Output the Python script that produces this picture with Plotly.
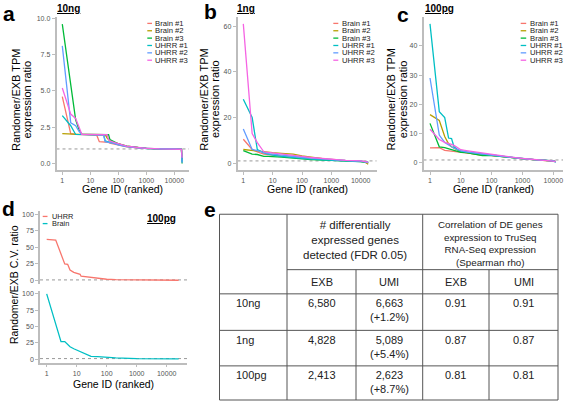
import plotly.graph_objects as go

W, H = 567, 403
FONT = "Liberation Sans, Arial, Helvetica, sans-serif"

# ---------------- data ----------------
series_names = ['Brain #1', 'Brain #2', 'Brain #3', 'UHRR #1', 'UHRR #2', 'UHRR #3']
series_colors = ['#F8766D', '#B79F00', '#00BA38', '#00BFC4', '#619CFF', '#F564E3']
rank_ticks = [1, 10, 100, 1000, 10000]
rank_tick_labels = ['1', '10', '100', '1000', '10000']

# panel a : 10ng
a_rank = [1, 2, 3, 4, 5, 7, 10, 17, 21, 30, 34, 40, 45, 50, 70, 100, 200, 500, 1000, 3000, 10000, 18000, 19000]
a_brain1 = [4.6, 2.05, 2.0, 2.0, 2.0, 2.0, 2.0, 1.95, 1.5, 1.5, 1.5, 1.48, 1.45, 1.4, 1.35, 1.25, 1.15, 1.08, 1.03, 1.0, 1.0, 0.98, 0.2]
a_brain2 = [2.05, 2.0, 2.0, 2.0, 2.0, 2.0, 2.0, 2.0, 2.0, 2.0, 1.98, 1.75, 1.6, 1.55, 1.45, 1.35, 1.2, 1.1, 1.04, 1.0, 1.0, 0.98, 0.3]
a_brain3 = [9.6, 5.3, 3.0, 2.3, 2.0, 2.0, 2.0, 2.0, 2.0, 2.0, 2.0, 2.0, 1.98, 1.65, 1.5, 1.35, 1.2, 1.1, 1.04, 1.0, 1.0, 0.98, 0.0]
a_uhrr1 = [3.3, 2.6, 2.0, 2.0, 2.0, 2.0, 2.0, 2.0, 2.0, 1.98, 1.55, 1.5, 1.48, 1.45, 1.4, 1.3, 1.18, 1.08, 1.03, 1.0, 1.0, 0.98, 0.1]
a_uhrr2 = [8.1, 2.8, 2.6, 2.2, 2.0, 2.0, 2.0, 2.0, 2.0, 1.95, 1.5, 1.48, 1.45, 1.42, 1.38, 1.28, 1.16, 1.07, 1.03, 1.0, 1.0, 0.98, 0.05]
a_uhrr3 = [5.2, 3.4, 3.1, 2.4, 2.0, 2.0, 2.0, 2.0, 2.0, 2.0, 2.0, 1.98, 1.65, 1.55, 1.45, 1.35, 1.2, 1.1, 1.04, 1.0, 1.0, 0.98, 0.4]

# panel b : 1ng
b_rank = [1, 2, 3, 4, 5, 7, 10, 20, 50, 100, 200, 500, 1000, 3000, 10000, 15000, 18000]
b_brain1 = [10.5, 6.0, 5.0, 4.5, 4.0, 3.8, 3.5, 3.2, 3.0, 2.7, 2.3, 1.8, 1.5, 1.2, 1.0, 0.6, 0.2]
b_brain2 = [6.0, 5.5, 5.3, 5.2, 5.0, 4.8, 4.6, 4.3, 4.0, 3.2, 2.8, 2.0, 1.3, 1.0, 0.7, 0.2, -0.5]
b_brain3 = [5.5, 4.0, 3.8, 3.5, 3.0, 3.0, 3.0, 2.7, 2.2, 1.8, 1.6, 1.3, 1.1, 1.0, 0.8, 0.5, 0.3]
b_uhrr1 = [28.0, 20.0, 6.0, 5.0, 4.5, 4.0, 3.5, 3.0, 2.5, 2.0, 1.8, 1.5, 1.3, 1.1, 0.9, 0.7, 0.5]
b_uhrr2 = [15.0, 6.0, 5.5, 5.0, 4.5, 4.2, 4.0, 3.5, 3.0, 2.5, 2.2, 1.8, 1.5, 1.2, 1.0, 0.7, 0.3]
b_uhrr3 = [61.0, 13.0, 9.0, 6.5, 5.0, 4.7, 4.5, 4.2, 3.5, 3.0, 2.5, 2.0, 1.5, 1.2, 1.0, 0.8, 0.5]

# panel c : 100pg
c_rank = [1, 2, 3, 4, 5, 6, 7, 8, 10, 15, 20, 30, 50, 100, 200, 500, 1000, 3000, 10000, 12000]
c_brain1 = [5.1, 5.2, 4.3, 4.1, 4.0, 3.9, 3.8, 3.7, 3.6, 3.4, 3.3, 3.1, 2.9, 2.7, 2.3, 1.8, 1.4, 1.0, 0.7, 0.4]
c_brain2 = [16.5, 14.5, 9.0, 6.5, 5.5, 5.0, 4.7, 4.3, 3.8, 3.5, 3.3, 3.0, 2.6, 2.6, 2.2, 1.8, 1.4, 1.0, 0.7, 0.4]
c_brain3 = [13.5, 5.5, 5.2, 4.8, 4.5, 4.3, 4.2, 4.0, 3.6, 3.5, 3.3, 3.0, 2.5, 2.5, 2.2, 1.8, 1.4, 1.0, 0.7, 0.4]
c_uhrr1 = [47.5, 17.5, 15.5, 8.5, 8.3, 5.5, 5.0, 4.5, 4.0, 3.7, 3.5, 3.2, 3.0, 2.7, 2.3, 1.8, 1.4, 1.0, 0.7, 0.3]
c_uhrr2 = [29.0, 9.5, 7.0, 6.3, 5.5, 5.0, 4.7, 4.5, 4.2, 3.8, 3.6, 3.3, 3.0, 2.7, 2.3, 1.8, 1.4, 1.0, 0.7, 0.2]
c_uhrr3 = [11.5, 8.0, 7.0, 6.7, 6.3, 6.0, 5.5, 5.0, 4.5, 4.2, 4.0, 3.7, 3.3, 3.0, 2.5, 1.9, 1.5, 1.1, 0.8, 0.5]

# panel d : 100pg C.V. ratio
d_names = ['UHRR', 'Brain']
d_colors = ['#F8766D', '#00BFC4']
d_rank = [1, 2, 3, 4, 5, 6, 8, 10, 13, 14, 20, 25, 30, 50, 100, 200, 1000, 10000, 25000]
d_uhrr = [62, 61, 40, 25, 24.5, 16, 12.5, 11, 9.5, 6.5, 5.5, 5, 4.5, 3.5, 2, 1.5, 1, 0.7, 0.5]
d_brain = [100, 55, 27, 27, 23, 19, 16, 14, 11, 10.5, 8, 5, 4.5, 4, 2.5, 2, 1, 0.6, 0.5]

# panel e : table
tbl_rows = ['10ng', '1ng', '100pg']
tbl_exb_count = ['6,580', '4,828', '2,413']
tbl_umi_count = ['6,663', '5,089', '2,623']
tbl_umi_gain = ['(+1.2%)', '(+5.4%)', '(+8.7%)']
tbl_corr_exb = ['0.91', '0.87', '0.81']
tbl_corr_umi = ['0.91', '0.87', '0.81']
tbl_group1 = '# differentially<br>expressed genes<br>detected (FDR 0.05)'
tbl_group2 = 'Correlation of DE genes<br>expression to TruSeq<br>RNA-Seq expression<br>(Spearman rho)'
tbl_sub = ['EXB', 'UMI', 'EXB', 'UMI']

# ---------------- helpers ----------------
def px(x):
    return x / W

def py(y):
    return 1 - y / H

def xdom(x0, x1):
    return [px(x0), px(x1)]

def ydom(ytop, ybot):
    return [py(ybot), py(ytop)]

fig = go.Figure()
annotations = []
shapes = []

AXCOL = '#bdbdbd'
TICKFONT = dict(family=FONT, size=7, color='#555555')

def xaxis_style(domain, rng, anchor, show=True):
    d = dict(domain=domain, range=rng, type='log', anchor=anchor, showgrid=False, zeroline=False,
             showline=show, linecolor=AXCOL, linewidth=1.6, ticks='outside' if show else '',
             ticklen=3, tickwidth=1, tickcolor=AXCOL, tickvals=rank_ticks, ticktext=rank_tick_labels,
             tickfont=TICKFONT, showticklabels=show)
    return d

def yaxis_style(domain, rng, anchor, tv, tt):
    return dict(domain=domain, range=rng, anchor=anchor, showgrid=False, zeroline=False,
                showline=True, linecolor=AXCOL, linewidth=1.6, ticks='outside', ticklen=3,
                tickwidth=1, tickcolor=AXCOL, tickvals=tv, ticktext=tt, tickfont=TICKFONT)

panels = [
    ('', a_rank, [a_brain1, a_brain2, a_brain3, a_uhrr1, a_uhrr2, a_uhrr3],
     (56.5, 189), [-0.207, 4.525], [-0.459, 10.09], [0, 2.5, 5, 7.5, 10], ['0.0', '2.5', '5.0', '7.5', '10.0']),
    ('2', b_rank, [b_brain1, b_brain2, b_brain3, b_uhrr1, b_uhrr2, b_uhrr3],
     (237.5, 376.5), [-0.198, 4.538], [-3.05, 64.05], [0, 20, 40, 60], ['0', '20', '40', '60']),
    ('3', c_rank, [c_brain1, c_brain2, c_brain3, c_uhrr1, c_uhrr2, c_uhrr3],
     (423.5, 563), [-0.211, 4.314], [-2.48, 49.86], [0, 10, 20, 30, 40], ['0', '10', '20', '30', '40']),
]

layout_axes = {}
for suf, rank, series, xd_, xr, yr, tv, tt in panels:
    xa = 'x' + suf
    ya = 'y' + suf
    for name, col, vals in zip(series_names, series_colors, series):
        fig.add_trace(go.Scatter(x=rank, y=vals, mode='lines', name=name, xaxis=xa, yaxis=ya,
                                 line=dict(color=col, width=1.3), showlegend=False))
    layout_axes['xaxis' + suf] = xaxis_style(xdom(*xd_), xr, ya)
    layout_axes['yaxis' + suf] = yaxis_style(ydom(15, 169), yr, xa, tv, tt)
    shapes.append(dict(type='line', xref=xa + ' domain', yref=ya, x0=0, x1=1, y0=1, y1=1,
                       line=dict(color='#8c8c8c', width=0.9, dash='dot'), layer='below'))

# panel d facets
d_xr = [-0.223, 4.677]
layout_axes['xaxis4'] = xaxis_style(xdom(40, 187), d_xr, 'y4', show=False)
layout_axes['xaxis5'] = xaxis_style(xdom(40, 187), d_xr, 'y5', show=True)
layout_axes['yaxis4'] = yaxis_style(ydom(210, 283.3), [-5, 105], 'x4', [0, 25, 50, 75, 100], ['0', '25', '50', '75', '100'])
layout_axes['yaxis5'] = yaxis_style(ydom(290, 362.3), [-5, 105], 'x5', [0, 25, 50, 75, 100], ['0', '25', '50', '75', '100'])
fig.add_trace(go.Scatter(x=d_rank, y=d_uhrr, mode='lines', name=d_names[0], xaxis='x4', yaxis='y4',
                         line=dict(color=d_colors[0], width=1.3), showlegend=False))
fig.add_trace(go.Scatter(x=d_rank, y=d_brain, mode='lines', name=d_names[1], xaxis='x5', yaxis='y5',
                         line=dict(color=d_colors[1], width=1.3), showlegend=False))
for xa, ya in (('x4', 'y4'), ('x5', 'y5')):
    shapes.append(dict(type='line', xref=xa + ' domain', yref=ya, x0=0, x1=1, y0=1, y1=1,
                       line=dict(color='#8c8c8c', width=0.9, dash='dot'), layer='below'))

def ann(text, x, y, size, color='#000000', xanchor='center', yanchor='middle', angle=0, bold=False, under=False):
    f = dict(family=FONT, size=size, color=color)
    if bold:
        f['weight'] = 'bold'
    if under:
        f['lineposition'] = 'under'
    annotations.append(dict(text=text, x=px(x), y=py(y), xref='paper', yref='paper', showarrow=False,
                            xanchor=xanchor, yanchor=yanchor, textangle=angle, font=f))

# panel letters
for letter, x, y in (('a', 9, 12), ('b', 210, 10), ('c', 403, 12.5), ('d', 8.5, 208), ('e', 210, 209)):
    ann(letter, x, y, 21, bold=True)

# panel titles
ann('10ng', 55, 7, 10, xanchor='left', bold=True, under=True)
ann('1ng', 235, 7, 10, xanchor='left', bold=True, under=True)
ann('100pg', 422.7, 7, 10, xanchor='left', bold=True, under=True)
ann('100pg', 145, 218, 10, xanchor='left', bold=True, under=True)

# axis titles
for x1, x2 in ((15.5, 27), (203.3, 214.5), (391, 402.7)):
    ann('Randomer/EXB TPM', x1, 98, 11, angle=-90)
    ann('expression ratio', x2, 98, 11, angle=-90)
for cx in (122.5, 307, 493.5):
    ann('Gene ID (ranked)', cx, 188, 10.5)
ann('Randomer/EXB C.V. ratio', 13.5, 284, 10.5, angle=-90)
ann('Gene ID (ranked)', 113.5, 383.5, 10.5)

# legends a/b/c
for kx0, kx1, tx in ((147.3, 152, 153.3), (333.3, 338.3, 340), (520.7, 526.2, 528.3)):
    for i, (name, col) in enumerate(zip(series_names, series_colors)):
        yy = 21.5 + 7.4 * i
        shapes.append(dict(type='line', xref='paper', yref='paper', x0=px(kx0), x1=px(kx1), y0=py(yy), y1=py(yy),
                           line=dict(color=col, width=1.3)))
        ann(name, tx, yy, 7.7, color='#222222', xanchor='left')
# legend d
for i, (name, col) in enumerate(zip(d_names, d_colors)):
    yy = 215.5 + 7.2 * i
    shapes.append(dict(type='line', xref='paper', yref='paper', x0=px(42.7), x1=px(47.5), y0=py(yy), y1=py(yy),
                       line=dict(color=col, width=1.3)))
    ann(name, 50, yy, 7.4, color='#222222', xanchor='left')

# table e
TL, TR, TT, TB = 219.5, 558, 213.3, 400
c1, c2, c3, c4 = 287, 356, 422.7, 489
h1, h2 = 269, 293.3
row_bounds = [293.3, 330, 365.7, 400]
LC = '#555555'

def seg(x0, y0, x1, y1):
    shapes.append(dict(type='line', xref='paper', yref='paper', x0=px(x0), y0=py(y0), x1=px(x1), y1=py(y1),
                       line=dict(color=LC, width=1)))

seg(TL, TT, TR, TT)
seg(TL, TB, TR, TB)
seg(TL, TT, TL, TB)
seg(TR, TT, TR, TB)
seg(c1, TT, c1, TB)
seg(c3, TT, c3, TB)
seg(c2, h1, c2, TB)
seg(c4, h1, c4, TB)
seg(c1, h1, TR, h1)
for yb in row_bounds[:-1]:
    seg(TL, yb, TR, yb)

TC = '#222222'
ann(tbl_group1, (c1 + c3) / 2, 239.5, 11.5, color=TC)
ann(tbl_group2, (c3 + TR) / 2, 242.5, 9.8, color=TC)
sub_centers = [(c1 + c2) / 2, (c2 + c3) / 2, (c3 + c4) / 2, (c4 + TR) / 2]
for t, cx in zip(tbl_sub, sub_centers):
    ann(t, cx, 281.5, 11, color=TC)
for i, r in enumerate(tbl_rows):
    top = row_bounds[i]
    y1 = top + 9.5
    ann(r, 233.5, y1, 11, color=TC, xanchor='left')
    ann(tbl_exb_count[i], sub_centers[0], y1, 11, color=TC)
    ann(tbl_umi_count[i] + '<br>' + tbl_umi_gain[i], sub_centers[1], y1 + 7, 11, color=TC)
    ann(tbl_corr_exb[i], sub_centers[2], y1, 11, color=TC)
    ann(tbl_corr_umi[i], sub_centers[3], y1, 11, color=TC)

fig.update_layout(
    width=W, height=H, margin=dict(l=0, r=0, t=0, b=0),
    paper_bgcolor='white', plot_bgcolor='white', showlegend=False,
    font=dict(family=FONT),
    annotations=annotations, shapes=shapes, **layout_axes,
)

fig.write_html('out.html', config={'displayModeBar': False},
               post_script="document.body.style.margin='0';document.body.style.overflow='hidden';")
